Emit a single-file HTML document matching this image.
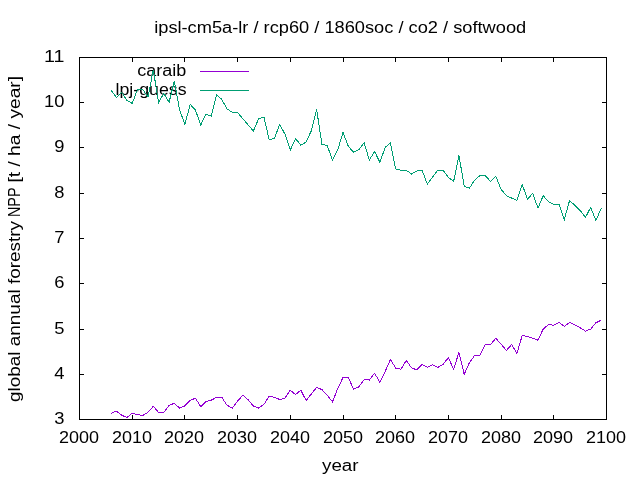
<!DOCTYPE html>
<html><head><meta charset="utf-8"><style>
html,body{margin:0;padding:0;background:#fff;width:640px;height:480px;overflow:hidden}
svg{display:block;will-change:transform}
</style></head><body>
<svg width="640" height="480" viewBox="0 0 640 480">
<rect width="640" height="480" fill="#fff"/>
<g font-family='"Liberation Sans", sans-serif' font-size="16" fill="#000">
<text x="154.20" y="33.00" textLength="372" lengthAdjust="spacingAndGlyphs">ipsl-cm5a-lr / rcp60 / 1860soc / co2 / softwood</text>
<text x="54.30" y="424.00" textLength="10.2" lengthAdjust="spacingAndGlyphs">3</text>
<text x="54.30" y="379.00" textLength="10.2" lengthAdjust="spacingAndGlyphs">4</text>
<text x="54.30" y="334.00" textLength="10.2" lengthAdjust="spacingAndGlyphs">5</text>
<text x="54.30" y="288.00" textLength="10.2" lengthAdjust="spacingAndGlyphs">6</text>
<text x="54.30" y="243.00" textLength="10.2" lengthAdjust="spacingAndGlyphs">7</text>
<text x="54.30" y="198.00" textLength="10.2" lengthAdjust="spacingAndGlyphs">8</text>
<text x="54.30" y="152.00" textLength="10.2" lengthAdjust="spacingAndGlyphs">9</text>
<text x="44.10" y="107.00" textLength="20.4" lengthAdjust="spacingAndGlyphs">10</text>
<text x="44.10" y="62.00" textLength="20.4" lengthAdjust="spacingAndGlyphs">11</text>
<text x="59.10" y="443.00" textLength="40" lengthAdjust="spacingAndGlyphs">2000</text>
<text x="112.10" y="443.00" textLength="40" lengthAdjust="spacingAndGlyphs">2010</text>
<text x="164.10" y="443.00" textLength="40" lengthAdjust="spacingAndGlyphs">2020</text>
<text x="217.10" y="443.00" textLength="40" lengthAdjust="spacingAndGlyphs">2030</text>
<text x="270.10" y="443.00" textLength="40" lengthAdjust="spacingAndGlyphs">2040</text>
<text x="323.10" y="443.00" textLength="40" lengthAdjust="spacingAndGlyphs">2050</text>
<text x="375.10" y="443.00" textLength="40" lengthAdjust="spacingAndGlyphs">2060</text>
<text x="428.10" y="443.00" textLength="40" lengthAdjust="spacingAndGlyphs">2070</text>
<text x="481.10" y="443.00" textLength="40" lengthAdjust="spacingAndGlyphs">2080</text>
<text x="533.10" y="443.00" textLength="40" lengthAdjust="spacingAndGlyphs">2090</text>
<text x="586.10" y="443.00" textLength="40" lengthAdjust="spacingAndGlyphs">2100</text>
<text x="322.00" y="471.00" textLength="36.5" lengthAdjust="spacingAndGlyphs">year</text>
<text x="0" y="0" transform="translate(20,402) rotate(-90)" textLength="181" lengthAdjust="spacingAndGlyphs">global annual forestry</text>
<text x="185" y="0" transform="translate(20,402) rotate(-90)" textLength="29.5" lengthAdjust="spacingAndGlyphs">NPP</text>
<text x="219.5" y="0" transform="translate(20,402) rotate(-90)" textLength="106.5" lengthAdjust="spacingAndGlyphs">[t / ha / year]</text>
<text x="137.20" y="75.50" textLength="49" lengthAdjust="spacingAndGlyphs">caraib</text>
<text x="115.50" y="94.50" textLength="71" lengthAdjust="spacingAndGlyphs">lpj-guess</text>
</g>
<path d="M200,71.5 H249" stroke="#9400d3" stroke-width="1" shape-rendering="crispEdges"/><path d="M200,90.5 H249" stroke="#009e73" stroke-width="1" shape-rendering="crispEdges"/>
<path d="M79.5,57.5 H606.5 V419.5 H79.5 Z" fill="none" stroke="#000" stroke-width="1" shape-rendering="crispEdges"/>
<path d="M79.5,374.5 h4.5 M606.5,374.5 h-4.5 M79.5,329.5 h4.5 M606.5,329.5 h-4.5 M79.5,283.5 h4.5 M606.5,283.5 h-4.5 M79.5,238.5 h4.5 M606.5,238.5 h-4.5 M79.5,193.5 h4.5 M606.5,193.5 h-4.5 M79.5,147.5 h4.5 M606.5,147.5 h-4.5 M79.5,102.5 h4.5 M606.5,102.5 h-4.5 M132.5,419.5 v-4.5 M132.5,57.5 v4.5 M184.5,419.5 v-4.5 M184.5,57.5 v4.5 M237.5,419.5 v-4.5 M237.5,57.5 v4.5 M290.5,419.5 v-4.5 M290.5,57.5 v4.5 M343.5,419.5 v-4.5 M343.5,57.5 v4.5 M395.5,419.5 v-4.5 M395.5,57.5 v4.5 M448.5,419.5 v-4.5 M448.5,57.5 v4.5 M501.5,419.5 v-4.5 M501.5,57.5 v4.5 M553.5,419.5 v-4.5 M553.5,57.5 v4.5" fill="none" stroke="#000" stroke-width="1" shape-rendering="crispEdges"/>
<polyline points="111.12,90.10 116.39,97.60 121.66,92.20 126.93,100.40 132.20,103.40 137.47,89.60 142.74,89.40 148.01,97.10 153.28,69.80 158.55,102.50 163.82,93.40 169.09,102.30 174.36,81.25 179.63,110.00 184.90,124.40 190.17,104.40 195.44,110.00 200.71,125.10 205.98,114.00 211.25,116.25 216.52,94.75 221.79,99.40 227.06,109.00 232.33,112.25 237.60,112.50 242.87,118.75 248.14,125.00 253.41,131.00 258.68,118.50 263.95,117.25 269.22,140.00 274.49,138.10 279.76,124.40 285.03,134.40 290.30,150.00 295.57,138.50 300.84,145.25 306.11,141.90 311.38,130.60 316.65,109.40 321.92,144.40 327.19,145.60 332.46,160.00 337.73,150.00 343.00,132.50 348.27,146.25 353.54,152.25 358.81,149.75 364.08,142.75 369.35,160.00 374.62,151.50 379.89,162.25 385.16,147.50 390.43,142.80 395.70,169.00 400.97,170.20 406.24,170.20 411.51,174.10 416.78,171.00 422.05,170.25 427.32,184.00 432.59,176.90 437.86,170.25 443.13,170.25 448.40,177.50 453.67,181.25 458.94,155.25 464.21,186.25 469.48,188.10 474.75,180.00 480.02,175.50 485.29,175.50 490.56,181.50 495.83,176.25 501.10,189.40 506.37,195.60 511.64,198.10 516.91,200.25 522.18,184.40 527.45,199.00 532.72,193.50 537.99,208.10 543.26,195.60 548.53,201.90 553.80,204.50 559.07,204.60 564.34,219.40 569.61,200.40 574.88,205.50 580.15,210.50 585.42,217.50 590.69,207.40 595.96,220.50 601.23,208.10" fill="none" stroke="#009e73" stroke-width="1" shape-rendering="crispEdges"/>
<polyline points="111.12,413.30 116.39,411.10 121.66,415.20 126.93,417.50 132.20,413.30 137.47,414.50 142.74,415.40 148.01,412.30 153.28,406.25 158.55,412.30 163.82,412.30 169.09,405.40 174.36,403.30 179.63,408.25 184.90,405.80 190.17,400.50 195.44,398.10 200.71,406.60 205.98,401.40 211.25,400.20 216.52,397.30 221.79,397.30 227.06,405.30 232.33,408.10 237.60,401.10 242.87,395.20 248.14,399.70 253.41,406.10 258.68,408.10 263.95,404.40 269.22,396.20 274.49,397.40 279.76,399.50 285.03,398.10 290.30,390.20 295.57,394.60 300.84,390.20 306.11,400.50 311.38,393.90 316.65,387.30 321.92,389.60 327.19,395.00 332.46,401.90 337.73,388.60 343.00,377.50 348.27,377.50 353.54,389.00 358.81,386.90 364.08,379.60 369.35,380.00 374.62,373.30 379.89,382.20 385.16,371.40 390.43,359.50 395.70,368.10 400.97,369.25 406.24,360.60 411.51,367.70 416.78,370.00 422.05,364.50 427.32,367.30 432.59,364.80 437.86,367.30 443.13,364.50 448.40,357.50 453.67,369.50 458.94,352.30 464.21,374.40 469.48,362.50 474.75,355.30 480.02,355.30 485.29,344.60 490.56,344.60 495.83,338.30 501.10,344.20 506.37,350.50 511.64,344.60 516.91,353.30 522.18,335.50 527.45,336.40 532.72,338.30 537.99,340.20 543.26,328.90 548.53,324.70 553.80,325.20 559.07,322.30 564.34,326.40 569.61,322.30 574.88,324.90 580.15,327.80 585.42,331.10 590.69,329.10 595.96,322.70 601.23,320.20" fill="none" stroke="#9400d3" stroke-width="1" shape-rendering="crispEdges"/>
</svg>
</body></html>
